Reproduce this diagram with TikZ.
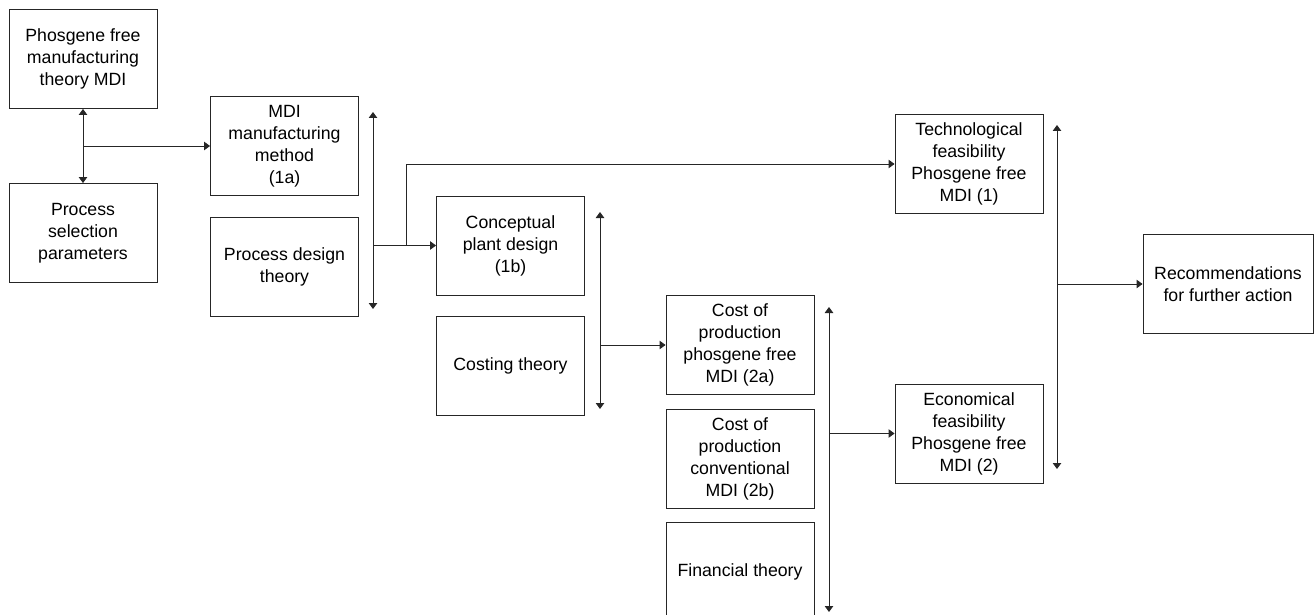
\documentclass[tikz,border=0pt]{standalone}
\usepackage{fontspec}
\setmainfont{Liberation Sans}
\usetikzlibrary{arrows.meta}
\begin{document}
\begin{tikzpicture}[x=1pt,y=-1pt,
  box/.style={draw=black!85, line width=0.9pt, minimum width=148pt, minimum height=99pt,
    align=center, inner sep=2pt, font=\fontsize{17.7}{22}\selectfont},
  conn/.style={draw=black!85, line width=0.9pt},
  tip/.style={-{Triangle[length=6pt,width=8.5pt]}},
  dtip/.style={{Triangle[length=6pt,width=8.5pt]}-{Triangle[length=6pt,width=8.5pt]}}]
\useasboundingbox (0,0) rectangle (1314,615);
% boxes
\node[box] (pf) at (83,59) {Phosgene free\\manufacturing\\theory MDI};
\node[box] (psp) at (83,233) {Process\\selection\\parameters};
\node[box] (mdi) at (284.5,146) {MDI\\manufacturing\\method\\(1a)};
\node[box] (pdt) at (284.5,266.5) {Process design\\theory};
\node[box] (cpd) at (510.5,245.5) {Conceptual\\plant design\\(1b)};
\node[box] (ct) at (510.5,365.5) {Costing theory};
\node[box] (c2a) at (740,345) {Cost of\\production\\phosgene free\\MDI (2a)};
\node[box] (c2b) at (740,458.5) {Cost of\\production\\conventional\\MDI (2b)};
\node[box] (fin) at (740,571.5) {Financial theory};
\node[box] (tech) at (969,164) {Technological\\feasibility\\Phosgene free\\MDI (1)};
\node[box] (econ) at (969,433.5) {Economical\\feasibility\\Phosgene free\\MDI (2)};
\node[box, minimum width=170pt] (rec) at (1228,284) {Recommendations\\for further action};
% bus coordinates
\coordinate (j1) at (83,146);
\coordinate (b1t) at (373,112);
\coordinate (b1b) at (373,309);
\coordinate (br) at (406,245.5);
\coordinate (b2t) at (600,212);
\coordinate (b2b) at (600,409);
\coordinate (b3t) at (829,307);
\coordinate (b3b) at (829,612);
\coordinate (b4t) at (1057,125);
\coordinate (b4b) at (1057,469);
% connectors
\draw[conn,dtip] (pf.south) -- (psp.north);
\draw[conn,tip] (j1) -- (mdi.west);
\draw[conn,dtip] (b1t) -- (b1b);
\draw[conn,tip] (b1t |- cpd.west) -- (cpd.west);
\draw[conn,tip] (br) |- (tech.west);
\draw[conn,dtip] (b2t) -- (b2b);
\draw[conn,tip] (b2t |- c2a.west) -- (c2a.west);
\draw[conn,dtip] (b3t) -- (b3b);
\draw[conn,tip] (b3t |- econ.west) -- (econ.west);
\draw[conn,dtip] (b4t) -- (b4b);
\draw[conn,tip] (b4t |- rec.west) -- (rec.west);
\end{tikzpicture}
\end{document}
